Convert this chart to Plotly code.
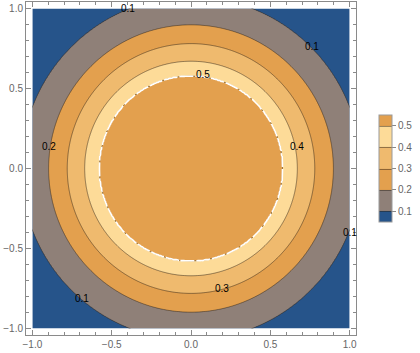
import numpy as np
import plotly.graph_objects as go

# ---- data ----
levels = [0.1, 0.2, 0.3, 0.4, 0.5]          # contour levels
radii = [1.07, 0.897, 0.78, 0.67, 0.58]      # radius at which each level sits
center_value = 0.56                          # value inside the inner disk
corner_value = 0.03                          # value at the far corners
corner_radius = 1.42
tick_vals = [-1.0, -0.5, 0.0, 0.5, 1.0]
tick_text = ["\u22121.0", "\u22120.5", "0.0", "0.5", "1.0"]
cbar_ticks = [0.1, 0.2, 0.3, 0.4, 0.5]
band_colors = ["#26548a", "#8f8078", "#e3a04e", "#efba6e", "#fddb98", "#e3a04e"]
label_levels = [0.1, 0.1, 0.1, 0.1, 0.2, 0.3, 0.4, 0.5]
label_x = [-0.397, 0.763, 1.0, -0.687, -0.895, 0.195, 0.668, 0.076]
label_y = [1.002, 0.765, -0.397, -0.81, 0.14, -0.747, 0.14, 0.587]

# ---- surface built from the radii ----
n = 321
xs = np.linspace(-1, 1, n)
ys = np.linspace(-1, 1, n)
X, Y = np.meshgrid(xs, ys)
R = np.sqrt(X ** 2 + Y ** 2)
r_pts = [0.0] + radii[::-1] + [corner_radius]
v_pts = [center_value] + levels[::-1] + [corner_value]
Z = np.interp(R, r_pts, v_pts)

nb = len(band_colors)
colorscale = [[i / (nb - 1), c] for i, c in enumerate(band_colors)]

fig = go.Figure()
fig.add_trace(go.Contour(
    x=xs, y=ys, z=Z,
    autocontour=False,
    contours=dict(start=levels[0], end=levels[-1], size=0.1, coloring="fill"),
    colorscale=colorscale,
    line=dict(color="rgba(40,30,20,0.55)", width=0.9),
    colorbar=dict(
        x=1.0697, xanchor="left", xpad=0,
        y=0.5, yanchor="middle",
        thickness=13, lenmode="pixels", len=127,
        outlinewidth=1, outlinecolor="#9a9a9a",
        tickvals=cbar_ticks, ticktext=[f"{v:.1f}" for v in cbar_ticks],
        ticks="outside", ticklen=4, tickcolor="#888", tickwidth=1,
        tickfont=dict(family="Liberation Sans, Arial", size=10, color="#666"),
    ),
    hoverinfo="skip",
))
# white boundary at the top level
fig.add_trace(go.Contour(
    x=xs, y=ys, z=Z,
    autocontour=False,
    contours=dict(start=levels[-1], end=levels[-1], size=0.1, coloring="none"),
    line=dict(color="white", width=1.6, dash="14px,2px"),
    showscale=False, hoverinfo="skip",
))

for lv, lx, ly in zip(label_levels, label_x, label_y):
    fig.add_annotation(x=lx, y=ly, text=f"{lv:.1f}", showarrow=False,
                       font=dict(family="Liberation Sans, Arial", size=10, color="black"),
                       xanchor="center", yanchor="middle")

axis_common = dict(
    range=[-1.04, 1.04], showgrid=False, zeroline=False,
    showline=True, linecolor="#8a8a8a", linewidth=1, mirror="ticks",
    ticks="inside", ticklen=5, tickcolor="#8a8a8a", tickwidth=1,
    tickvals=tick_vals, ticktext=tick_text,
    tickfont=dict(family="Liberation Sans, Arial", size=10, color="#666"),
    minor=dict(ticks="inside", ticklen=3, tickcolor="#8a8a8a", dtick=0.1, tick0=0),
)
fig.update_xaxes(**axis_common)
fig.update_yaxes(**axis_common)
fig.update_layout(
    width=420, height=353,
    margin=dict(l=26, r=64, t=2, b=18),
    paper_bgcolor="white", plot_bgcolor="white",
    showlegend=False,
)
fig.write_html("out.html")
